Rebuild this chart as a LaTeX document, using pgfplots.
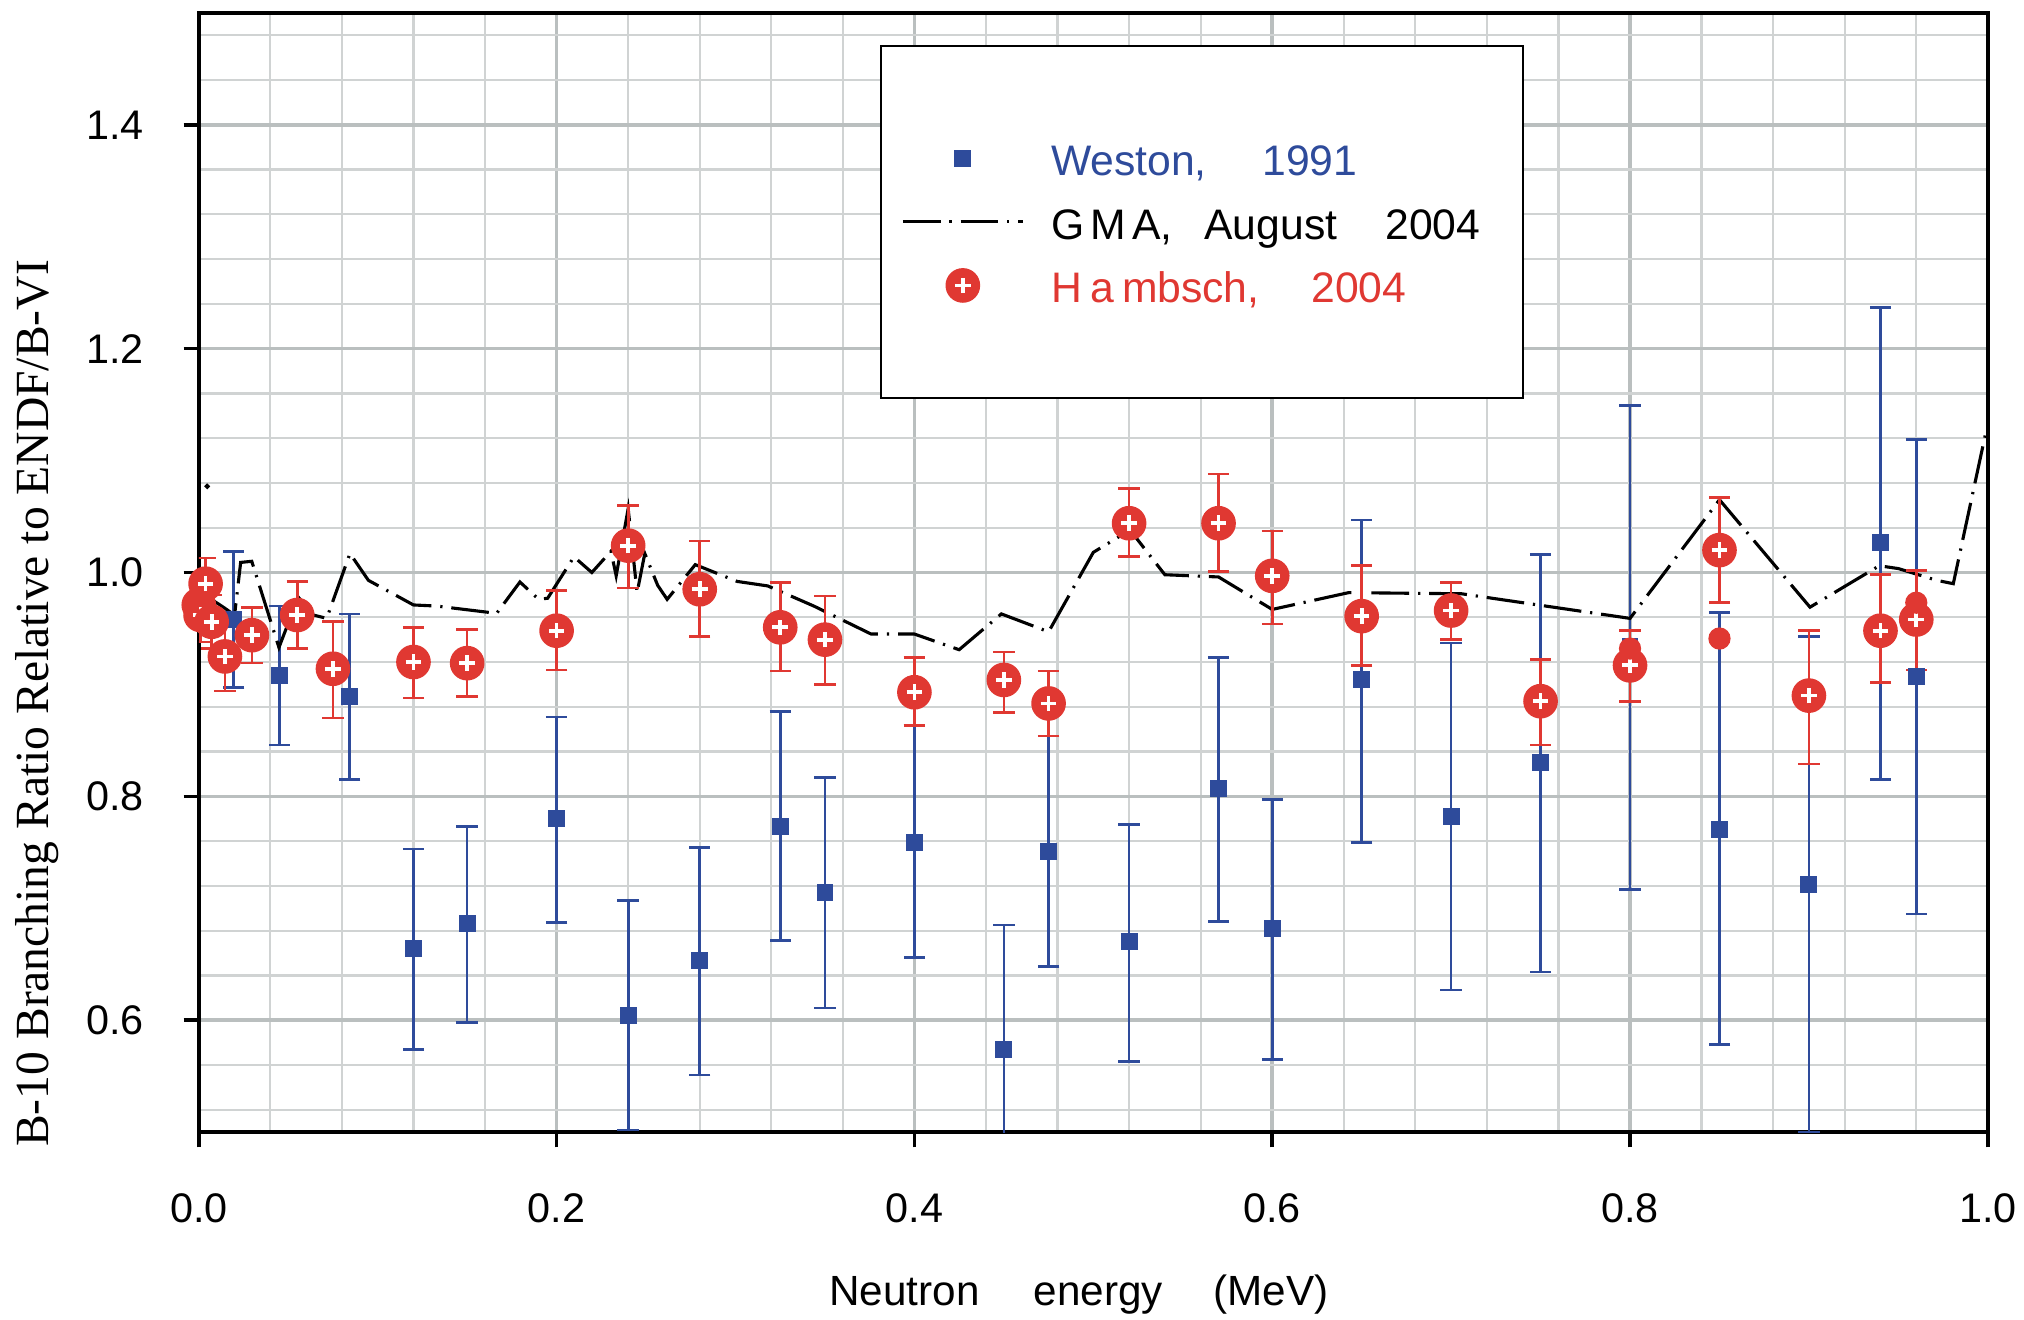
\documentclass[border=0pt]{standalone}
\usepackage{fontspec}
\setmainfont{Liberation Sans}
\newfontfamily\timesfont{Liberation Serif}
\usepackage{pgfplots}
\pgfplotsset{compat=1.18}
\usepackage{pgfplotstable}
\definecolor{wblue}{RGB}{46,75,155}
\definecolor{hred}{RGB}{224,56,50}
\definecolor{gmaj}{RGB}{186,191,191}
\definecolor{gmin}{RGB}{208,211,211}

\pgfdeclareplotmark{circplus}{%
  \pgfpathcircle{\pgfpointorigin}{\pgfplotmarksize}%
  \pgfsetfillcolor{hred}\pgfusepath{fill}%
  \pgfsetstrokecolor{white}\pgfsetlinewidth{0.85pt}%
  \pgfpathmoveto{\pgfqpoint{-0.45\pgfplotmarksize}{0pt}}\pgfpathlineto{\pgfqpoint{0.45\pgfplotmarksize}{0pt}}%
  \pgfpathmoveto{\pgfqpoint{0pt}{-0.45\pgfplotmarksize}}\pgfpathlineto{\pgfqpoint{0pt}{0.45\pgfplotmarksize}}%
  \pgfusepath{stroke}%
}

\pgfplotsset{
  gmalegend/.style={legend image code/.code={\draw[##1] (0cm,0cm) -- (0.95cm,0cm);}},
  marklegend/.style={legend image code/.code={\path (0cm,0cm) (0.95cm,0cm); \draw[##1] plot coordinates {(0.475cm,0cm)};}},
}

\pgfplotstableread{
x y ep em
0.0195 0.958 0.061 0.061
0.045 0.908 0.062 0.062
0.0844 0.889 0.074 0.074
0.12 0.664 0.089 0.090
0.15 0.686 0.087 0.088
0.20 0.780 0.091 0.093
0.24 0.604 0.103 0.102
0.28 0.653 0.101 0.102
0.325 0.773 0.103 0.102
0.35 0.714 0.103 0.103
0.40 0.759 0.104 0.103
0.45 0.574 0.111 0.114
0.475 0.751 0.103 0.103
0.52 0.670 0.105 0.107
0.57 0.807 0.117 0.119
0.60 0.682 0.115 0.117
0.65 0.904 0.143 0.145
0.70 0.782 0.155 0.155
0.75 0.830 0.186 0.187
0.80 0.934 0.215 0.217
0.85 0.770 0.194 0.192
0.90 0.721 0.222 0.221
0.94 1.027 0.210 0.212
0.96 0.907 0.212 0.212
}\weston

\pgfplotstableread{
x y ep em
0.0000 0.971 0.024 0.024
0.0010 0.962 0.024 0.024
0.0038 0.990 0.023 0.023
0.0072 0.956 0.024 0.024
0.0146 0.925 0.031 0.031
0.0297 0.944 0.025 0.025
0.055 0.962 0.030 0.030
0.075 0.914 0.042 0.044
0.12 0.920 0.031 0.032
0.15 0.919 0.030 0.030
0.20 0.948 0.036 0.035
0.24 1.024 0.036 0.038
0.28 0.985 0.043 0.042
0.325 0.951 0.040 0.039
0.35 0.940 0.039 0.040
0.40 0.893 0.031 0.030
0.45 0.904 0.025 0.029
0.475 0.883 0.029 0.029
0.52 1.044 0.031 0.030
0.57 1.044 0.044 0.043
0.60 0.997 0.040 0.043
0.65 0.961 0.045 0.044
0.70 0.966 0.025 0.026
0.75 0.885 0.037 0.039
0.80 0.917 0.031 0.032
0.85 1.020 0.047 0.047
0.90 0.890 0.058 0.061
0.94 0.948 0.050 0.046
0.96 0.958 0.044 0.045
}\hambsch

\pgfplotstableread{
x y
0.008 0.975
0.0137 0.969
0.0200 0.962
0.0234 1.009
0.0296 1.010
0.0448 0.933
0.0556 0.978
0.0640 0.962
0.0715 0.959
0.0845 1.017
0.0948 0.993
0.1200 0.971
0.1330 0.970
0.1665 0.9635
0.1795 0.9915
0.1900 0.976
0.1950 0.977
0.2097 1.014
0.2197 1.000
0.2304 1.019
0.2333 0.997
0.2400 1.057
0.2450 0.982
0.2493 1.017
0.2565 0.9885
0.2618 0.976
0.2775 1.007
0.3010 0.992
0.3180 0.988
0.3438 0.970
0.3758 0.945
0.4000 0.945
0.4250 0.931
0.4486 0.963
0.4750 0.947
0.5000 1.018
0.5205 1.038
0.5400 0.998
0.5700 0.996
0.6000 0.967
0.6427 0.982
0.7058 0.981
0.8000 0.959
0.8500 1.065
0.9006 0.969
0.9393 1.006
0.9500 1.0035
0.9714 0.993
0.9807 0.990
0.9994 1.129
}\gma

\begin{document}
\begin{tikzpicture}
\begin{axis}[
  name=ax,
  scale only axis,
  width=14.142cm, height=8.847cm,
  xmin=0, xmax=1, ymin=0.5, ymax=1.5,
  xtick={0,0.2,0.4,0.6,0.8,1.0},
  ytick={0.6,0.8,1.0,1.2,1.4},
  minor xtick={0.04,0.08,0.12,0.16,0.24,0.28,0.32,0.36,0.44,0.48,0.52,0.56,0.64,0.68,0.72,0.76,0.84,0.88,0.92,0.96},
  minor ytick={0.52,0.56,0.64,0.68,0.72,0.76,0.84,0.88,0.92,0.96,1.04,1.08,1.12,1.16,1.24,1.28,1.32,1.36,1.44,1.48},
  grid=both,
  major grid style={color=gmaj, line width=0.8pt},
  minor grid style={color=gmin, line width=0.5pt},
  tick pos=left,
  tick align=outside,
  major tick length=0.12cm,
  minor tick length=0pt,
  tick style={black, line width=0.8pt},
  axis line style={black, line width=1pt},
  /pgf/number format/assume math mode=true,
  /pgf/number format/.cd, fixed, fixed zerofill, precision=1, /pgfplots/.cd,
  ticklabel style={font=\fontsize{9.3}{11}\selectfont, inner sep=0pt},
  xticklabel style={yshift=-0.36cm},
  yticklabel style={xshift=-0.31cm},
  xlabel={Neutron\hspace{0.43cm}energy\hspace{0.4cm}(MeV)},
  xlabel style={font=\fontsize{9.5}{11}\selectfont, inner sep=0pt, at={([yshift=-1.368cm]axis description cs:0.492,0)}, anchor=base},
  ylabel={B-10 Branching Ratio Relative to ENDF/B-VI},
  ylabel style={font=\timesfont\fontsize{10.7}{13}\selectfont, inner sep=0pt, at={([xshift=-1.19cm]axis description cs:0,0.383)}, anchor=base},
  legend cell align=left,
  legend style={at={(0.3808,0.9713)}, anchor=north west, draw=black, fill=white,
    inner xsep=0.16cm, inner ysep=0.73cm, row sep=5.3pt, column sep=0.21cm,
    font=\fontsize{9.6}{11}\selectfont,
    nodes={inner sep=0pt, text height=8.4pt, text depth=0.6pt}},
]
\addplot[wblue, only marks, mark=square*, mark size=1.7pt, marklegend,
  error bars/.cd, y dir=both, y explicit,
  error bar style={wblue, line width=0.6pt},
  error mark options={wblue, rotate=90, mark size=2.4pt, line width=0.6pt}]
  table[x=x, y=y, y error plus=ep, y error minus=em]{\weston};
\addlegendentry{\makebox[3.57cm][l]{\textcolor{wblue}{Weston,\hspace{0.44cm}1991}}}
\addplot[black, line width=0.7pt, dash pattern=on 8.5pt off 2pt on 0.5pt off 2pt, gmalegend]
  table[x=x, y=y]{\gma};
\addlegendentry{\makebox[3.57cm][l]{G\hspace{0.05cm}M\hspace{0.05cm}A,\hspace{0.25cm}August\hspace{0.38cm}2004}}
\addplot[only marks, mark=circplus, mark size=3.9pt, marklegend,
  error bars/.cd, y dir=both, y explicit,
  error bar style={hred, line width=0.6pt},
  error mark options={hred, rotate=90, mark size=2.4pt, line width=0.6pt}]
  table[x=x, y=y, y error plus=ep, y error minus=em]{\hambsch};
\addlegendentry{\makebox[3.57cm][l]{\textcolor{hred}{H\hspace{0.07cm}a\hspace{0.06cm}mbsch,\hspace{0.41cm}2004}}}
\addplot[hred, forget plot, only marks, mark=*, mark size=2.3pt]
  coordinates {(0.80,0.932) (0.85,0.941) (0.96,0.973)};
\addplot[black, forget plot, only marks, mark=*, mark size=0.4pt]
  coordinates {(0.0047,1.077)};
\end{axis}
\path (ax.south west) ++(-1.5715cm,-1.478cm);
\path (ax.north east) ++(0.286cm,0.102cm);
\end{tikzpicture}
\end{document}
